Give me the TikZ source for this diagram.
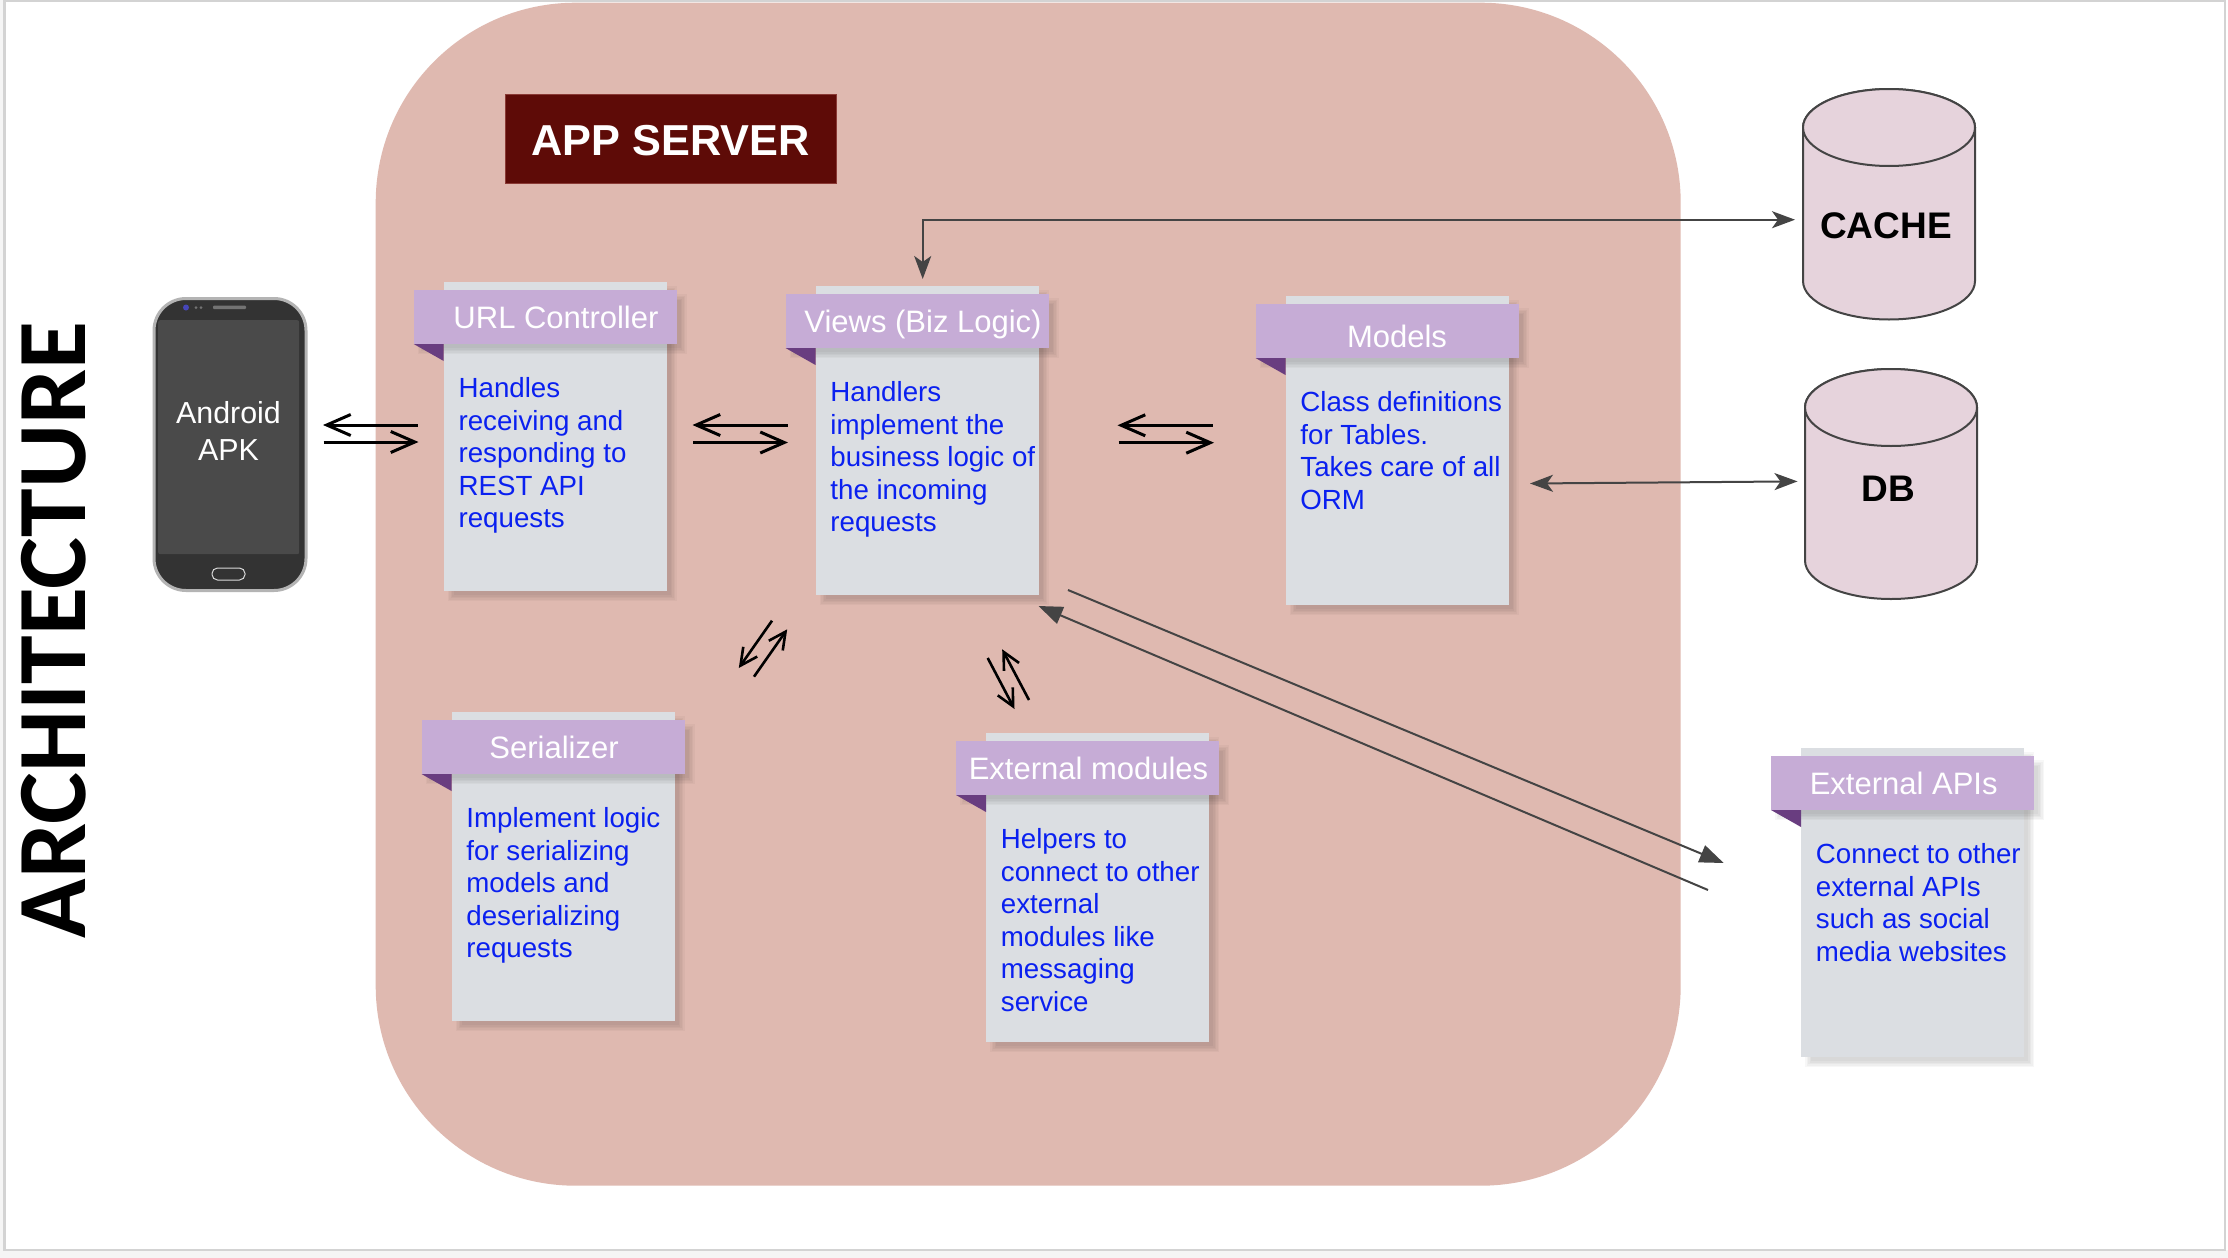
\documentclass[tikz,border=0pt]{standalone}
\usepackage{fontspec}
\setmainfont{Liberation Sans}
\newfontfamily\calibrifont{Carlito}
\usetikzlibrary{arrows.meta}
\definecolor{pinkbg}{HTML}{DFB9B0}
\definecolor{maroon}{HTML}{5E0B07}
\definecolor{maroonedge}{HTML}{8A3A35}
\definecolor{cardgray}{HTML}{DBDEE2}
\definecolor{ribbonlilac}{HTML}{C6ACD6}
\definecolor{foldpurple}{HTML}{693D80}
\definecolor{bodyblue}{HTML}{0A20F0}
\definecolor{cylfill}{HTML}{E6D3DC}
\definecolor{darkline}{HTML}{444444}
\definecolor{slideedge}{HTML}{D3D3D3}
\definecolor{phoneshell}{HTML}{333333}
\definecolor{phonescreen}{HTML}{4A4A4A}
\definecolor{phonerim}{HTML}{B4B4B4}
\tikzset{
  x=1pt,y=-1pt,
  cardbody/.style={fill=cardgray,draw=none,inner sep=0pt,minimum width=223pt,minimum height=309pt,anchor=north west},
  ribbonbar/.style={fill=ribbonlilac,draw=none,inner sep=0pt,minimum width=263pt,minimum height=54pt,anchor=north west},
  ribbontitle/.style={text=white,inner sep=0pt,anchor=base,font=\fontsize{31}{36}\selectfont},
  bodytext/.style={text=bodyblue,inner sep=0pt,anchor=north west,align=left,font=\fontsize{27.7}{32.5}\selectfont},
  cyl/.style={fill=cylfill,draw=darkline,line width=2pt},
  cyltext/.style={inner sep=0pt,anchor=base,font=\fontsize{37}{40}\selectfont\bfseries},
  bigpair/.style={draw=black,line width=3pt,-{Straight Barb[length=24pt,width=21pt]}},
  smallpair/.style={draw=black,line width=2.6pt,-{Straight Barb[length=17pt,width=17pt]}},
  grayboth/.style={draw=darkline,line width=2pt,{Stealth[length=23pt,width=17pt,inset=6pt]}-{Stealth[length=23pt,width=17pt,inset=6pt]}},
  graylong/.style={draw=darkline,line width=2pt,-{Triangle[length=24pt,width=18pt]}},
}
\newcommand{\softshadow}[4]{%
  \foreach \d in {-3,-1.5,0,1.5,3}{%
    \fill[black,opacity=.032] (#1+7-\d,#2+7-\d) rectangle (#3+7+\d,#4+7+\d);
  }%
}
\newcommand{\infocard}[7]{%
  % name, x, y, title centre, title baseline offset, title, lines
  \softshadow{#2}{#3}{#2+223}{#3+309}
  \node[cardbody] (#1) at (#2,#3) {};
  \softshadow{#2-30}{#3+8}{#2+233}{#3+62}
  \fill[foldpurple] (#2-30,#3+62) -- (#2,#3+62) -- (#2,#3+79) -- cycle;
  \node[ribbonbar] (#1Ribbon) at (#2-30,#3+8) {};
  \node[ribbontitle] (#1Title) at (#4,#3+#5) {#6};
  \node[bodytext] (#1Text) at (#2+14.7,#3+95.5) {#7};
}
\newcommand{\cylinder}[4]{%
  % left, right, top-ellipse cy, bottom-ellipse cy
  \path[cyl] (#1,#3) -- (#1,#4) arc[start angle=180,end angle=0,x radius={(#2-#1)/2},y radius=38.5] -- (#2,#3) arc[start angle=0,end angle=-180,x radius={(#2-#1)/2},y radius=38.5] -- cycle;
  \path[cyl] ({(#1+#2)/2},#3) ellipse[x radius={(#2-#1)/2},y radius=38.5];
}
\begin{document}
\begin{tikzpicture}
\useasboundingbox (0,0) rectangle (2228,1258);
\fill[white] (0,0) rectangle (2228,1258);
\fill[black!4] (0,1250) rectangle (2228,1258);
\fill[black!4] (0,0) rectangle (4,1258);
\draw[slideedge,line width=2.5pt] (4.5,1) rectangle (2225,1250);

% server area
\node[fill=pinkbg,draw=none,inner sep=0pt,rounded corners=200pt,minimum width=1305pt,minimum height=1183pt,anchor=north west] (server) at (375.5,2.5) {};
\node[fill=maroon,draw=maroonedge,line width=1pt,inner sep=0pt,minimum width=331pt,minimum height=89pt,anchor=north west] (serverBox) at (505,94) {};
\node[text=white,inner sep=0pt,anchor=base,font=\fontsize{43.3}{48}\selectfont\bfseries] (serverLabel) at (670.5,155) {APP SERVER};

% page title
\node[rotate=90,inner sep=0pt,anchor=base,font=\calibrifont\fontsize{98}{100}\selectfont\bfseries] (archTitle) at (85.5,630) {ARCHITECTURE};

% phone
\node[fill=phoneshell,draw=phonerim,line width=3pt,rounded corners=32pt,inner sep=0pt,minimum width=152pt,minimum height=292pt,anchor=north west] (phone) at (152.5,297) {};
\node[fill=phonescreen,draw=none,rounded corners=2pt,inner sep=0pt,minimum width=141pt,minimum height=234pt,anchor=north west] (phoneScreen) at (158,320) {};
\fill[blue!45!gray] (186,307.5) circle[radius=3pt];
\fill[black!55] (196,307.5) circle[radius=1.5pt] (201,307.5) circle[radius=1.5pt];
\fill[black!55,rounded corners=1pt] (213,305.5) rectangle (246,309);
\draw[white!85!black,line width=1pt,rounded corners=5.5pt] (212,568) rectangle (245,580);
\node[text=white,inner sep=0pt,anchor=base,font=\fontsize{30.4}{36}\selectfont] (phoneLabelA) at (228.5,423) {Android};
\node[text=white,inner sep=0pt,anchor=base,font=\fontsize{30.4}{36}\selectfont] (phoneLabelB) at (228.5,460) {APK};

% cards
\infocard{url}{443.7}{282}{556}{46.2}{URL Controller}{Handles\\receiving and\\responding to\\REST API\\requests}
\infocard{views}{815.5}{286}{923}{46.2}{Views (Biz Logic)}{Handlers\\implement the\\business logic of\\the incoming\\requests}
\infocard{models}{1285.5}{296}{1397}{51}{Models}{Class definitions\\for Tables.\\Takes care of all\\ORM}
\infocard{serializer}{451.5}{712}{554}{46.2}{Serializer}{Implement logic\\for serializing\\models and\\deserializing\\requests}
\infocard{modules}{986}{733}{1088.5}{46.2}{External modules}{Helpers to\\connect to other\\external\\modules like\\messaging\\service}
\infocard{apis}{1801}{748}{1903.7}{46.2}{External APIs}{Connect to other\\external APIs\\such as social\\media websites}

% cylinders
\cylinder{1803}{1975}{127.5}{281}
\node[cyltext] (cache) at (1886,238.5) {CACHE};
\cylinder{1805}{1977}{407.5}{560.5}
\node[cyltext] (db) at (1888.5,501) {DB};

% connector end points
\coordinate (phoneA) at (323,425); \coordinate (urlA) at (417.5,425);
\coordinate (phoneB) at (323.5,442); \coordinate (urlB) at (418.5,442);
\coordinate (urlC) at (692.5,425); \coordinate (viewsC) at (787.5,425);
\coordinate (urlD) at (693,442.5); \coordinate (viewsD) at (788,442.5);
\coordinate (viewsE) at (1117.5,425.3); \coordinate (modelsE) at (1212.5,425.3);
\coordinate (viewsF) at (1118.5,442.7); \coordinate (modelsF) at (1214,442.7);
\coordinate (serA) at (738.8,668); \coordinate (viewsG) at (772,620.7);
\coordinate (serB) at (754,676.7); \coordinate (viewsH) at (787.2,629.3);
\coordinate (viewsI) at (987.7,658); \coordinate (modulesI) at (1014.5,709);
\coordinate (modulesJ) at (1029,700); \coordinate (viewsJ) at (1002.2,649.3);
\coordinate (viewsTop) at (922.7,279); \coordinate (cacheIn) at (1795,219.7);
\coordinate (modelsIn) at (1530,483.5); \coordinate (dbIn) at (1797.5,481.4);
\coordinate (viewsOut) at (1068,590); \coordinate (apisIn) at (1723.7,863);
\coordinate (apisOut) at (1708,890); \coordinate (viewsBack) at (1038.5,606);

% connectors
\draw[bigpair] (urlA) -- (phoneA);
\draw[bigpair] (phoneB) -- (urlB);
\draw[bigpair] (viewsC) -- (urlC);
\draw[bigpair] (urlD) -- (viewsD);
\draw[bigpair] (modelsE) -- (viewsE);
\draw[bigpair] (viewsF) -- (modelsF);
\draw[smallpair] (viewsG) -- (serA);
\draw[smallpair] (serB) -- (viewsH);
\draw[smallpair] (viewsI) -- (modulesI);
\draw[smallpair] (modulesJ) -- (viewsJ);
\draw[grayboth] (viewsTop) |- (cacheIn);
\draw[grayboth] (modelsIn) -- (dbIn);
\draw[graylong] (viewsOut) -- (apisIn);
\draw[graylong] (apisOut) -- (viewsBack);
\end{tikzpicture}
\end{document}
